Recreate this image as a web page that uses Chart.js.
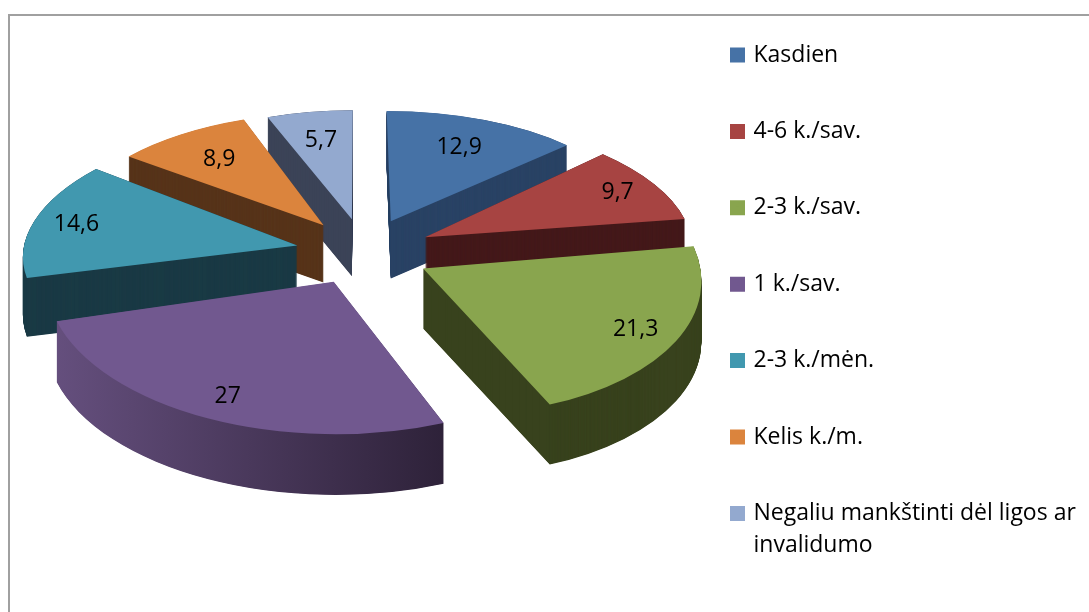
<!DOCTYPE html>
<html>
<head>
<meta charset="utf-8">
<script src="https://cdn.jsdelivr.net/npm/chart.js@4"></script>
<style>
    html, body { margin: 0; padding: 0; background: #fff; overflow: hidden; }
    #frame { position: absolute; left: 8px; top: 14px; width: 1200px; height: 800px; border: 2px solid #a0a0a0; }
    #bar { position: absolute; left: 0; top: 0; }
</style>
</head>
<body>
<div id="frame"></div>
<canvas id="bar" width="1089" height="680"></canvas>
<script>
var categories = ['Kasdien', '4-6 k./sav.', '2-3 k./sav.', '1 k./sav.', '2-3 k./mėn.', 'Kelis k./m.',
    ['Negaliu mankštinti dėl ligos ar', 'invalidumo']];
var values = [12.9, 9.7, 21.3, 27, 14.6, 8.9, 5.7];
var topColors = ['#4672a6', '#a74442', '#89a54e', '#71588f', '#4198af', '#db843d', '#93a9cf'];
var wallColors = ['#2a4365', '#44191a', '#38421d', ['#66507f', '#2d2138'], '#1a3a45', '#57341a', '#3b4357'];

// look of the tilted pie
var pieX = 364, pieY = 252, radius = 265, explode = 68, explodeY = 0.49, depth = 59;

// each slice gets its own flat approximation of the perspective
function sliceView(arc) {
    var mid = (arc.startAngle + arc.endAngle) / 2;
    var u = Math.cos(mid), v = Math.sin(mid);
    return {
        x: pieX + explode * u,
        y: pieY + explode * explodeY * v,
        sx: 1 + 0.094 * v + (v < 0 ? 0.05 * Math.abs(u) : 0),
        shear: 0.1 * u * Math.abs(u) + 0.03 * Math.max(v, 0),
        sy: v > 0 ? 0.53 + 0.05 * v : 0.49 + 0.08 * v,
        drop: depth + 2 * v,
        labelAt: v < -0.6 ? 0.73 : 0.84,
        mid: mid
    };
}

function placeSlice(ctx, arc, view, drop) {
    ctx.translate(view.x, view.y + drop);
    ctx.transform(view.sx, 0, view.shear, view.sy, 0, 0);
    ctx.translate(-arc.x, -arc.y);
}

function drawArc(ctx, arc, color) {
    var saved = arc.options;
    arc.options = Object.assign({}, saved, {backgroundColor: color, borderWidth: 0});
    arc.draw(ctx);
    arc.options = saved;
}

var tiltedPie = {
    id: 'tiltedPie',
    afterLayout: function (chart) {
        // legend sits where the original has it, one column
        var legend = chart.legend;
        legend.left = 679.6;
        legend.right = 1089;
        legend.top = -9.9;
        legend.bottom = 680;
    },
    beforeDatasetsDraw: function (chart) {
        var ctx = chart.ctx;
        var arcs = chart.getDatasetMeta(0).data.map(function (arc, i) {
            return {arc: arc, i: i, view: sliceView(arc)};
        });
        arcs.sort(function (a, b) { return Math.sin(a.view.mid) - Math.sin(b.view.mid); });

        arcs.forEach(function (item) {
            var arc = item.arc;
            var wall = wallColors[item.i];
            if (Array.isArray(wall)) {
                var g = ctx.createLinearGradient(arc.x - radius, 0, arc.x + radius * 0.4, 0);
                g.addColorStop(0, wall[0]);
                g.addColorStop(1, wall[1]);
                wall = g;
            }
            for (var d = item.view.drop; d > 0; d -= 0.5) {
                ctx.save();
                placeSlice(ctx, arc, item.view, d);
                drawArc(ctx, arc, wall);
                ctx.restore();
            }
            ctx.save();
            placeSlice(ctx, arc, item.view, 0);
            drawArc(ctx, arc, topColors[item.i]);
            ctx.restore();
        });
        return false;
    },
    afterDraw: function (chart) {
        var ctx = chart.ctx;
        ctx.save();
        ctx.fillStyle = '#000';
        ctx.font = '23px "Open Sans"';
        ctx.textAlign = 'center';
        ctx.textBaseline = 'middle';
        chart.getDatasetMeta(0).data.forEach(function (arc, i) {
            var view = sliceView(arc);
            var u = Math.cos(view.mid) * radius * view.labelAt, v = Math.sin(view.mid) * radius * view.labelAt;
            var x = view.x + view.sx * u + view.shear * v;
            var y = view.y + view.sy * v;
            ctx.fillText(String(values[i]).replace('.', ','), x, y);
        });
        ctx.restore();
    }
};

new Chart(document.getElementById('bar'), {
    type: 'pie',
    data: {
        labels: categories,
        datasets: [{data: values, backgroundColor: topColors, borderColor: topColors, borderWidth: 6, clip: false}]
    },
    options: {
        responsive: false,
        animation: false,
        radius: radius,
        plugins: {
            tooltip: {enabled: false},
            legend: {
                position: 'right',
                align: 'start',
                labels: {
                    color: '#000',
                    boxWidth: 9,
                    boxHeight: 9,
                    padding: 53.4,
                    font: {family: 'Open Sans', size: 23, lineHeight: 1.39}
                }
            }
        }
    },
    plugins: [tiltedPie]
});
</script>
</body>
</html>
